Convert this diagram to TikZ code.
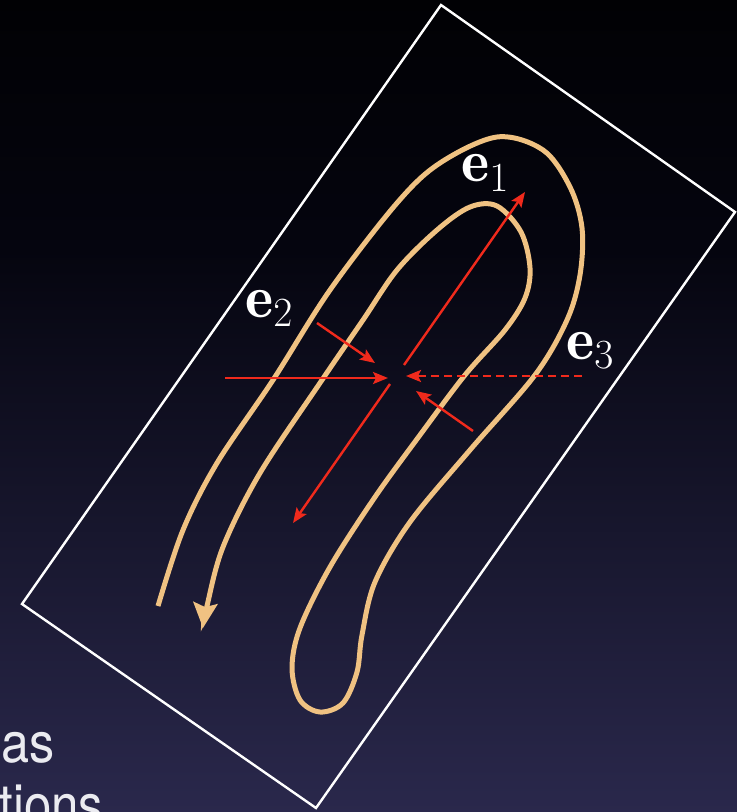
\documentclass[tikz,border=0pt]{standalone}
\usepackage{fontspec}
\newfontfamily\helv{TeX Gyre Heros}
\usetikzlibrary{arrows.meta}
\definecolor{flow}{RGB}{240,194,130}
\definecolor{vec}{RGB}{240,42,28}
\definecolor{bgtop}{RGB}{1,1,4}
\definecolor{bgupper}{RGB}{5,5,15}
\definecolor{bgmid}{RGB}{18,17,48}
\definecolor{bgbot}{RGB}{42,40,76}
\definecolor{txt}{RGB}{235,235,240}
\begin{document}
\begin{tikzpicture}[x=0.5pt,y=-0.5pt,
  frame/.style={draw=white,line width=1.2pt,line join=miter},
  flowline/.style={draw=flow,line width=2.5pt,line cap=butt,
    -{Stealth[length=12.5pt,width=12pt,inset=2pt]}},
  vecarrow/.style={draw=vec,line width=1.2pt,-{Stealth[length=7.5pt,width=6pt,inset=1.5pt]}},
  dashvec/.style={vecarrow,dash pattern=on 4pt off 2.5pt},
  lab/.style={text=white,inner sep=0pt,anchor=base west,font=\fontsize{30}{34}\selectfont},
  sidetext/.style={text=txt,inner sep=0pt,font=\helv\fontsize{28}{34}\selectfont}]
\useasboundingbox (0,0) rectangle (737,812);
\clip (0,0) rectangle (737,812);
\shade[top color=bgtop,bottom color=bgupper] (0,-1) rectangle (737,251);
\shade[top color=bgupper,middle color=bgmid,bottom color=bgbot] (0,250) rectangle (737,813);

% frame
\coordinate (rt) at (441,5);
\coordinate (rr) at (735,212);
\coordinate (rb) at (316,808);
\coordinate (rl) at (22,604);
\draw[frame] (rt) -- (rr) -- (rb) -- (rl) -- cycle;

% flow curve
\draw[flowline] plot[smooth,tension=0.55] coordinates {
 (158,606) (183,530) (217,463) (273,380) (330,290) (397,203) (440,163)
 (497,137) (543,150) (570,187) (582,228) (580,275) (567,320) (535,375)
 (470,450) (410,522) (375,582) (362,635) (357,672) (343,703) (320,712)
 (300,700) (292,668) (300,628) (330,567) (375,497) (420,435) (465,375)
 (505,330) (525,298) (530,268) (521,232) (497,206) (470,207) (437,230)
 (397,270) (363,320) (322,380) (260,473) (223,547) (207,606) (203,628)};

% vectors
\coordinate (a1s) at (404,365); \coordinate (a1e) at (525,192);
\coordinate (a2s) at (390,384); \coordinate (a2e) at (293,523);
\coordinate (a3s) at (317,323); \coordinate (a3e) at (375,363);
\coordinate (a4s) at (225,378); \coordinate (a4e) at (388,378);
\coordinate (a5s) at (582,376); \coordinate (a5e) at (406,376);
\coordinate (a6s) at (473,431); \coordinate (a6e) at (416,391);
\draw[vecarrow] (a1s) -- (a1e);
\draw[vecarrow] (a2s) -- (a2e);
\draw[vecarrow] (a3s) -- (a3e);
\draw[vecarrow] (a4s) -- (a4e);
\draw[dashvec] (a5s) -- (a5e);
\draw[vecarrow] (a6s) -- (a6e);

% labels
\node[lab] (e1) at (461,182) {$\mathbf{e}_1$};
\node[lab] (e2) at (245,317) {$\mathbf{e}_2$};
\node[lab] (e3) at (566,359) {$\mathbf{e}_3$};

% side text, cut by the lower edge as in the reference
\node[sidetext,anchor=base west] (t1) at (1,762) {\scalebox{0.9}[1]{as}};
\node[sidetext,anchor=base west] (t2) at (-1,824) {\scalebox{0.88}[1]{tions}};
\end{tikzpicture}
\end{document}
